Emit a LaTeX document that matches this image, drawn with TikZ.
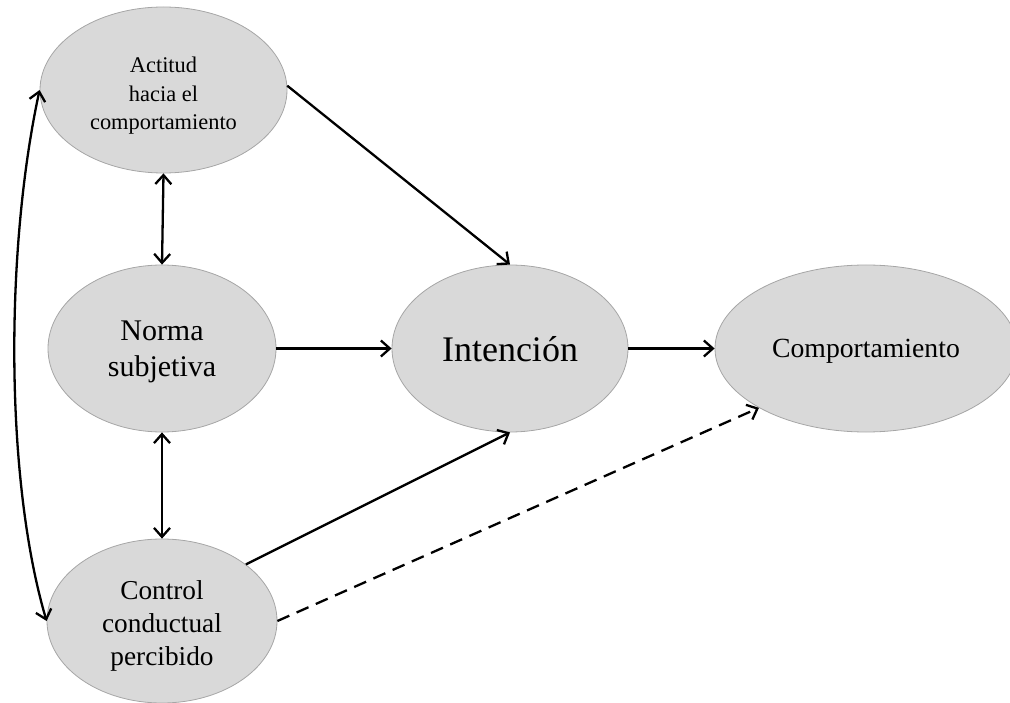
\documentclass[tikz,border=0pt]{standalone}
\usepackage{fontspec}
\setmainfont{Liberation Serif}
\usetikzlibrary{shapes.geometric,arrows.meta}

\definecolor{bubblefill}{HTML}{D9D9D9}
\definecolor{bubbleline}{HTML}{A6A6A6}

\tikzset{
  bubble/.style={ellipse, draw=bubbleline, line width=0.8pt, fill=bubblefill,
    inner sep=0pt},
  caption/.style={align=center, text=black, inner sep=0pt},
  barb/.tip={Straight Barb[length=9pt,width=16pt]},
  link/.style={line width=2.3pt, -barb},
  bilink/.style={line width=2.3pt, barb-barb},
}

\begin{document}
\begin{tikzpicture}[x=1pt,y=-1pt]
  \useasboundingbox (0,0) rectangle (1010,703);

  % constructs of the model
  \node[bubble, minimum width=247pt, minimum height=166pt,
        label={[caption, yshift=-6pt, font=\fontsize{22.4}{28.5}\selectfont]center:Actitud\\hacia el\\comportamiento}]
        (act) at (163.5,90) {};
  \node[bubble, minimum width=228pt, minimum height=167pt,
        label={[caption, yshift=-3pt, font=\fontsize{30}{36}\selectfont]center:Norma\\subjetiva}]
        (nor) at (162,348.5) {};
  \node[bubble, minimum width=230pt, minimum height=164pt,
        label={[caption, yshift=-5pt, font=\fontsize{27.3}{33}\selectfont]center:Control\\conductual\\percibido}]
        (ctl) at (162,621) {};
  \node[bubble, minimum width=236pt, minimum height=167pt,
        label={[caption, yshift=-1pt, font=\fontsize{36}{40}\selectfont]center:Intención}]
        (int) at (510,348.5) {};
  \node[bubble, minimum width=302pt, minimum height=167pt,
        label={[caption, yshift=-3pt, font=\fontsize{27.7}{32}\selectfont]center:Comportamiento}]
        (beh) at (866,348.5) {};

  % direct effects
  \draw[link] (act.2) -- (int.north);
  \draw[link] (nor.east) -- (int.west);
  \draw[link] (ctl.34) -- (int.south);
  \draw[link] (int.east) -- (beh.west);
  \draw[link, dash pattern=on 13pt off 8pt] (ctl.east) -- (beh.209);

  % correlations between the antecedents
  \draw[bilink] (act.south) -- (nor.north);
  \draw[bilink] (nor.south) -- (ctl.north);
  \draw[bilink] (act.west) .. controls (5,250) and (5,480) .. (ctl.west);
\end{tikzpicture}
\end{document}
